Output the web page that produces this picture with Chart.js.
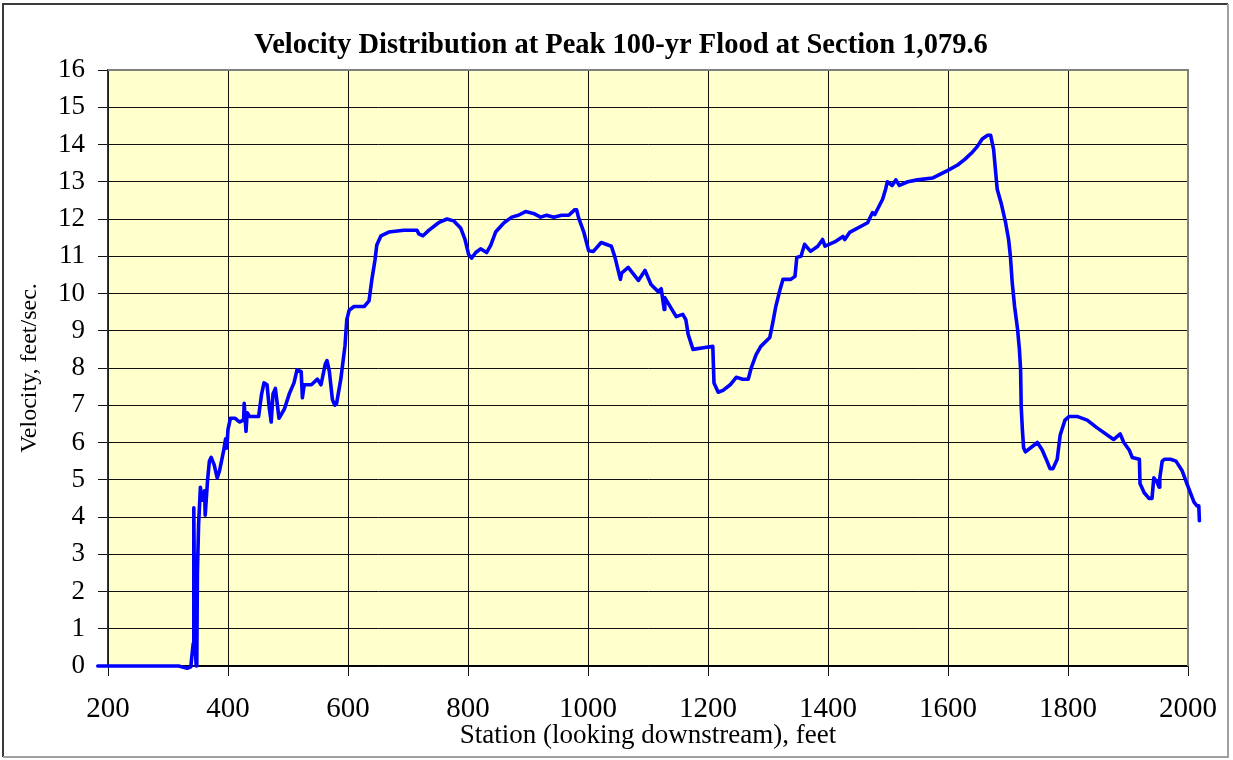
<!DOCTYPE html>
<html>
<head>
<meta charset="utf-8">
<script src="https://cdn.jsdelivr.net/npm/chart.js@4.4.1/dist/chart.umd.min.js"></script>
<style>
  html, body { margin:0; padding:0; background:#fff; }
  #wrap { width:1233px; height:760px; position:relative; }
</style>
</head>
<body>
<div id="wrap"><canvas id="velChart" width="1233" height="760"></canvas></div>
<script>
// Velocity distribution at peak 100-yr flood, section 1,079.6
var chartTitle = 'Velocity Distribution at Peak 100-yr Flood at Section 1,079.6';
var xTitle     = 'Station (looking downstream), feet';
var yTitle     = 'Velocity, feet/sec.';

// station (ft)
var stations = [
  183, 200, 230, 260, 290, 318, 324, 332, 338, 340, 342, 343, 344, 345, 347, 348, 349, 351, 354, 357,
  361, 362, 366, 369, 372, 377, 382, 386, 393, 396, 398, 400, 404, 412, 419, 426, 427, 430, 432, 436,
  444, 451, 456, 460, 465, 469, 472, 475, 479, 485, 494, 502, 510, 515, 522, 524, 527, 539, 549, 555,
  562, 565, 569, 574, 578, 581, 588, 595, 598, 602, 610, 627, 635, 640, 645, 648, 655, 668, 693, 715,
  718, 725, 735, 751, 765, 776, 788, 795, 801, 806, 813, 821, 831, 838, 846, 860, 873, 884, 896, 909,
  921, 931, 943, 956, 968, 978, 981, 984, 993, 1001, 1009, 1022, 1039, 1045, 1054, 1056, 1067, 1084, 1095, 1105,
  1117, 1122, 1127, 1128, 1147, 1158, 1163, 1167, 1175, 1195, 1208, 1210, 1217, 1225, 1237, 1247, 1258, 1267, 1272, 1280,
  1288, 1303, 1308, 1313, 1320, 1325, 1338, 1345, 1348, 1355, 1361, 1371, 1383, 1391, 1395, 1413, 1425, 1428, 1436, 1466,
  1474, 1478, 1491, 1496, 1499, 1507, 1513, 1519, 1533, 1549, 1574, 1599, 1616, 1628, 1641, 1649, 1657, 1666, 1671, 1676,
  1679, 1682, 1689, 1696, 1701, 1704, 1707, 1711, 1716, 1719, 1721, 1722, 1724, 1726, 1729, 1741, 1749, 1757, 1765, 1770,
  1775, 1782, 1787, 1795, 1802, 1815, 1832, 1848, 1876, 1887, 1893, 1902, 1907, 1919, 1920, 1927, 1935, 1940, 1943, 1948,
  1952, 1953, 1957, 1961, 1971, 1980, 1990, 1998, 2010, 2015, 2018, 2019
];

// velocity (ft/s)
var velocity = [
  0, 0, 0, 0, 0, 0, -0.03, -0.06, -0.02, 0.3, 0.6, 4.25, 2.0, 0.6, 0, 0.1, 2.5, 3.8, 4.8, 4.45,
  4.7, 4.05, 5.0, 5.5, 5.6, 5.4, 5.05, 5.25, 5.8, 6.1, 5.85, 6.35, 6.65, 6.65, 6.55, 6.6, 7.05, 6.3, 6.8, 6.7,
  6.7, 6.7, 7.3, 7.6, 7.55, 6.9, 6.55, 7.3, 7.45, 6.65, 6.9, 7.3, 7.6, 7.95, 7.9, 7.2, 7.55, 7.55, 7.7, 7.55,
  8.1, 8.2, 7.9, 7.15, 7.0, 7.05, 7.7, 8.6, 9.3, 9.55, 9.65, 9.65, 9.8, 10.4, 10.9, 11.3, 11.55, 11.65, 11.7, 11.7,
  11.6, 11.55, 11.7, 11.9, 12.0, 11.95, 11.75, 11.45, 11.05, 10.95, 11.1, 11.2, 11.1, 11.3, 11.65, 11.9, 12.05, 12.1, 12.2, 12.15,
  12.05, 12.1, 12.05, 12.1, 12.1, 12.25, 12.25, 12.05, 11.65, 11.15, 11.13, 11.37, 11.27, 10.97, 10.38, 10.55, 10.7, 10.35, 10.62, 10.24,
  10.05, 10.13, 9.57, 9.89, 9.38, 9.44, 9.3, 8.9, 8.5, 8.55, 8.58, 7.6, 7.35, 7.4, 7.55, 7.75, 7.7, 7.7, 8.0, 8.35,
  8.58, 8.82, 9.22, 9.65, 10.1, 10.38, 10.38, 10.46, 10.97, 11.0, 11.32, 11.13, 11.27, 11.45, 11.27, 11.4, 11.53, 11.45, 11.64, 11.9,
  12.17, 12.12, 12.53, 12.8, 13.0, 12.9, 13.05, 12.9, 13.0, 13.05, 13.1, 13.3, 13.45, 13.6, 13.8, 13.95, 14.15, 14.25, 14.25, 13.87,
  13.33, 12.8, 12.4, 11.9, 11.45, 11.0, 10.3, 9.65, 9.03, 8.5, 7.96, 6.96, 6.34, 5.86, 5.75, 5.9, 6.0, 5.8, 5.5, 5.3,
  5.3, 5.55, 6.2, 6.6, 6.7, 6.7, 6.6, 6.4, 6.08, 6.23, 6.0, 5.8, 5.6, 5.55, 4.9, 4.65, 4.5, 4.5, 5.05, 4.95,
  4.8, 5.05, 5.5, 5.55, 5.55, 5.5, 5.25, 4.9, 4.4, 4.3, 4.3, 3.9
];

var xMin = 200, xMax = 2000, xStep = 200;
var yMin = 0,   yMax = 16,   yStep = 1;

var SERIF = '"Liberation Serif", "Times New Roman", serif';

var points = stations.map(function(s, i) { return { x: s, y: velocity[i] }; });

// plot area fill + grey frame, title, outer border of the whole picture
var framePlugin = {
  id: 'frame',
  beforeDraw: function(chart) {
    var a = chart.chartArea, ctx = chart.ctx;
    ctx.save();
    ctx.fillStyle = '#ffffff';
    ctx.fillRect(0, 0, chart.width, chart.height);
    ctx.fillStyle = '#ffffcc';
    ctx.fillRect(a.left, a.top, a.right - a.left, a.bottom - a.top);
    ctx.restore();
  },
  beforeDatasetsDraw: function(chart) {
    var a = chart.chartArea, ctx = chart.ctx;
    ctx.save();
    ctx.strokeStyle = '#808080';
    ctx.lineWidth = 2;
    ctx.beginPath();
    ctx.moveTo(a.left, a.top);
    ctx.lineTo(a.right, a.top);
    ctx.lineTo(a.right, a.bottom);
    ctx.stroke();
    ctx.restore();
  },
  afterDraw: function(chart) {
    var ctx = chart.ctx;
    ctx.save();
    // title sits a bit right of the canvas centre in the original
    ctx.fillStyle = '#000';
    ctx.font = 'bold 28.5px ' + SERIF;
    ctx.textAlign = 'center';
    ctx.textBaseline = 'middle';
    ctx.fillText(chartTitle, 621, 46);

    ctx.lineWidth = 2;
    ctx.strokeStyle = '#3a3a3a';
    ctx.beginPath();
    ctx.moveTo(3, 757); ctx.lineTo(3, 4); ctx.lineTo(1228, 4);
    ctx.stroke();
    ctx.strokeStyle = '#a0a0a0';
    ctx.beginPath();
    ctx.moveTo(1228, 4); ctx.lineTo(1228, 757); ctx.lineTo(3, 757);
    ctx.stroke();
    ctx.restore();
  }
};

new Chart(document.getElementById('velChart').getContext('2d'), {
  type: 'line',
  data: {
    datasets: [{
      data: points,
      borderColor: '#0000ff',
      borderWidth: 3.6,
      borderJoinStyle: 'round',
      borderCapStyle: 'round',
      pointRadius: 0,
      tension: 0,
      fill: false,
      clip: false
    }]
  },
  options: {
    responsive: false,
    animation: false,
    events: [],
    layout: { padding: { left: 0, right: 42, top: 70, bottom: 0 } },
    plugins: {
      legend: { display: false },
      tooltip: { enabled: false },
      title: { display: false }
    },
    scales: {
      x: {
        type: 'linear',
        // range set after data limits so the line may run past the axis ends, as in the original
        afterDataLimits: function(s) { s.min = xMin; s.max = xMax; },
        afterFit: function(s) { s.height = 94; },
        ticks: {
          stepSize: xStep,
          color: '#000',
          padding: 16,
          maxRotation: 0,
          font: { family: SERIF, size: 29 },
          callback: function(v) { return String(v); }
        },
        grid: { color: '#111', lineWidth: 1, tickLength: 10, drawTicks: true },
        border: { display: true, color: '#000', width: 1.5 },
        title: {
          display: true,
          text: xTitle,
          color: '#000',
          font: { family: SERIF, size: 27 },
          padding: { top: 0, bottom: 8 }
        }
      },
      y: {
        min: yMin, max: yMax,
        afterFit: function(s) { s.width = 108; },
        ticks: {
          stepSize: yStep,
          color: '#000',
          padding: 13,
          font: { family: SERIF, size: 27 },
          callback: function(v) { return String(v); }
        },
        grid: { color: '#111', lineWidth: 1, tickLength: 10, drawTicks: true },
        border: { display: true, color: '#333', width: 1.5 },
        title: {
          display: true,
          text: yTitle,
          color: '#000',
          font: { family: SERIF, size: 24 },
          padding: { top: 15, bottom: 0 }
        }
      }
    }
  },
  plugins: [framePlugin]
});
</script>
</body>
</html>
